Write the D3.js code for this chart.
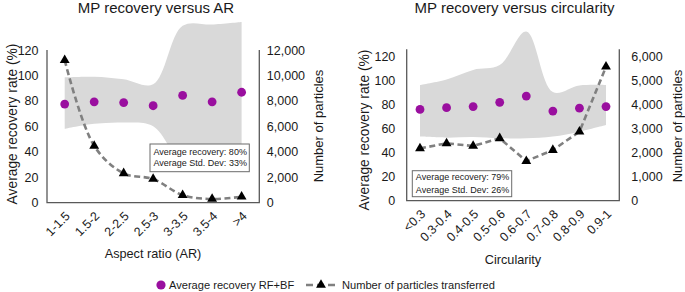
<!DOCTYPE html>
<html>
<head>
<meta charset="utf-8">
<script src="https://cdn.jsdelivr.net/npm/d3@7"></script>
<style>
  body { margin: 0; background: #fff; }
  svg text { font-family: "Liberation Sans", Arial, sans-serif; fill: #1a1a1a; }
</style>
</head>
<body>
<div id="chart"></div>
<script>
// Aspect ratio panel
const arCategories = ["1-1.5", "1.5-2", "2-2.5", "2.5-3", "3-3.5", "3.5-4", ">4"];
const arRecovery = [77.5, 79.3, 78.7, 76.2, 84.3, 79.3, 86.8];
const arBandUpper = [98.5, 99, 97, 93, 139, 140, 142];
const arBandLower = [58, 62, 63, 60, 31, 28, 33];
const arParticles = [11200, 4470, 2310, 1860, 600, 290, 470];
const arLeftTicks = [0, 20, 40, 60, 80, 100, 120];
const arRightTicks = [0, 2000, 4000, 6000, 8000, 10000, 12000];
const arBoxText = ["Average recovery: 80%", "Average Std. Dev: 33%"];

// Circularity panel
const circCategories = ["<0.3", "0.3-0.4", "0.4-0.5", "0.5-0.6", "0.6-0.7", "0.7-0.8", "0.8-0.9", "0.9-1"];
const circRecovery = [76.1, 77.5, 78.4, 82, 87.2, 74.7, 77.1, 78.4];
const circBandUpper = [96.4, 101, 109, 113, 141, 90.5, 96, 96.4];
const circBandLower = [53.4, 52.5, 53, 52, 52, 53.4, 57.5, 63];
const circParticles = [2180, 2390, 2280, 2600, 1650, 2110, 2875, 5580];
const circLeftTicks = [0, 20, 40, 60, 80, 100, 120];
const circRightTicks = [0, 1000, 2000, 3000, 4000, 5000, 6000];
const circBoxText = ["Average recovery: 79%", "Average Std. Dev: 26%"];

const purple = "#9a0f9f";
const dashGray = "#808080";
const axisColor = "#595959";

const svg = d3.select("#chart").append("svg")
    .attr("width", 685)
    .attr("height", 292);

const triangle = d3.symbol().type(d3.symbolTriangle).size(42);

function drawPanel(cfg) {
    const g = svg.append("g");

    // scales
    const x = d3.scalePoint()
        .domain(cfg.categories)
        .range([cfg.left, cfg.right])
        .padding(cfg.pad);
    const y = d3.scaleLinear()
        .domain([0, 120])
        .range([cfg.bottom, cfg.top]);
    const y2 = d3.scaleLinear()
        .domain([0, d3.max(cfg.rightTicks)])
        .range([cfg.bottom, cfg.top]);

    // shaded std-dev band
    const bandData = cfg.categories.map(function(c, i) {
        return {cat: c, lo: cfg.lower[i], hi: cfg.upper[i]};
    });
    g.append("path")
        .datum(bandData)
        .attr("fill", "#d9d9d9")
        .attr("d", d3.area()
            .curve(d3.curveCatmullRom)
            .x(function(d) { return x(d.cat); })
            .y0(function(d) { return y(d.lo); })
            .y1(function(d) { return y(d.hi); }));

    // axes lines (left, right, bottom)
    g.append("path")
        .attr("fill", "none")
        .attr("stroke", axisColor)
        .attr("stroke-width", 1.3)
        .attr("d", "M" + cfg.left + "," + cfg.axisTop + "V" + cfg.bottom + "H" + cfg.right + "V" + cfg.axisTop);

    // particles line
    const partData = cfg.categories.map(function(c, i) { return {cat: c, v: cfg.particles[i]}; });
    g.append("path")
        .datum(partData)
        .attr("fill", "none")
        .attr("stroke", dashGray)
        .attr("stroke-width", 2.6)
        .attr("stroke-dasharray", "6,3.5")
        .attr("d", d3.line()
            .curve(cfg.lineCurve)
            .x(function(d) { return x(d.cat); })
            .y(function(d) { return y2(d.v); }));

    g.selectAll(".tri")
        .data(partData)
        .enter().append("path")
        .attr("class", "tri")
        .attr("d", triangle)
        .attr("fill", "#000")
        .attr("transform", function(d) { return "translate(" + x(d.cat) + "," + y2(d.v) + ")"; });

    // recovery dots
    g.selectAll(".dot")
        .data(cfg.recovery)
        .enter().append("circle")
        .attr("class", "dot")
        .attr("cx", function(d, i) { return x(cfg.categories[i]); })
        .attr("cy", function(d) { return y(d); })
        .attr("r", 4.4)
        .attr("fill", purple);

    // tick labels
    const leftAxis = d3.axisLeft(y).tickValues(cfg.leftTicks).tickSize(0).tickPadding(cfg.leftPad);
    g.append("g")
        .attr("transform", "translate(" + cfg.left + ",0)")
        .call(leftAxis)
        .call(function(a) { a.select(".domain").remove(); })
        .selectAll("text")
        .style("font-size", "12.5px")
        .style("fill", "#1a1a1a");

    const rightAxis = d3.axisRight(y2).tickValues(cfg.rightTicks).tickSize(0)
        .tickPadding(cfg.rightPad).tickFormat(d3.format(","));
    g.append("g")
        .attr("transform", "translate(" + cfg.right + ",0)")
        .call(rightAxis)
        .call(function(a) { a.select(".domain").remove(); })
        .selectAll("text")
        .style("font-size", "12.5px")
        .style("fill", "#1a1a1a");

    // rotated category labels
    g.selectAll(".xlab")
        .data(cfg.categories)
        .enter().append("text")
        .attr("class", "xlab")
        .attr("text-anchor", "end")
        .attr("dy", "0.35em")
        .style("font-size", "12.5px")
        .attr("transform", function(d) {
            return "translate(" + (x(d) + 3) + "," + (cfg.bottom + 11) + ") rotate(-45)";
        })
        .text(function(d) { return d; });

    // titles
    g.append("text")
        .attr("x", cfg.titleX).attr("y", 13)
        .attr("text-anchor", "middle")
        .style("font-size", "15px")
        .text(cfg.title);

    g.append("text")
        .attr("x", cfg.xTitleX).attr("y", cfg.xTitleY)
        .attr("text-anchor", "middle")
        .attr("dy", "0.35em")
        .style("font-size", "12.7px")
        .text(cfg.xTitle);

    g.append("text")
        .attr("transform", "translate(" + cfg.yTitleX + "," + cfg.yTitleY + ") rotate(-90)")
        .attr("text-anchor", "middle")
        .attr("dy", "0.35em")
        .style("font-size", "13.8px")
        .text("Average recovery rate (%)");

    g.append("text")
        .attr("transform", "translate(" + cfg.y2TitleX + ",126) rotate(-90)")
        .attr("text-anchor", "middle")
        .attr("dy", "0.35em")
        .style("font-size", "13px")
        .text("Number of particles");

    // info box
    const b = cfg.box;
    g.append("rect")
        .attr("x", b.x).attr("y", b.y)
        .attr("width", b.w).attr("height", b.h)
        .attr("fill", "#fff")
        .attr("stroke", "#6b6b6b")
        .attr("stroke-width", 1);
    g.selectAll(".boxtext")
        .data(cfg.boxText)
        .enter().append("text")
        .attr("class", "boxtext")
        .attr("x", b.x + 3.5)
        .attr("y", function(d, i) { return b.y + b.first + i * b.gap; })
        .attr("dy", "0.35em")
        .style("font-size", "9px")
        .text(function(d) { return d; });
}

drawPanel({
    categories: arCategories, recovery: arRecovery, upper: arBandUpper, lower: arBandLower,
    particles: arParticles, leftTicks: arLeftTicks, rightTicks: arRightTicks, boxText: arBoxText,
    left: 47, right: 259.3, top: 50, axisTop: 50, bottom: 202.7, pad: 0.6,
    leftPad: 8.5, rightPad: 7.5, lineCurve: d3.curveCatmullRom,
    title: "MP recovery versus AR", titleX: 156,
    xTitle: "Aspect ratio (AR)", xTitleX: 153, xTitleY: 254,
    yTitleX: 12, yTitleY: 124, y2TitleX: 318,
    box: {x: 150, y: 144, w: 99.3, h: 27.7, first: 7.8, gap: 11.4}
});

drawPanel({
    categories: circCategories, recovery: circRecovery, upper: circBandUpper, lower: circBandLower,
    particles: circParticles, leftTicks: circLeftTicks, rightTicks: circRightTicks, boxText: circBoxText,
    left: 406.7, right: 619.3, top: 56.7, axisTop: 49.3, bottom: 200.7, pad: 0.5,
    leftPad: 11.4, rightPad: 12, lineCurve: d3.curveLinear,
    title: "MP recovery versus circularity", titleX: 514.5,
    xTitle: "Circularity", xTitleX: 513, xTitleY: 260,
    yTitleX: 364, yTitleY: 130, y2TitleX: 677,
    box: {x: 412.3, y: 170.7, w: 99.4, h: 26, first: 6.3, gap: 12.6}
});

// legend
const legend = svg.append("g");
legend.append("circle")
    .attr("cx", 161).attr("cy", 285).attr("r", 4.6)
    .attr("fill", purple);
legend.append("text")
    .attr("x", 169).attr("y", 285).attr("dy", "0.35em")
    .style("font-size", "11.1px")
    .text("Average recovery RF+BF");
legend.append("line")
    .attr("x1", 306).attr("x2", 337).attr("y1", 285).attr("y2", 285)
    .attr("stroke", dashGray).attr("stroke-width", 2.6)
    .attr("stroke-dasharray", "7,4");
legend.append("path")
    .attr("d", triangle)
    .attr("fill", "#000")
    .attr("transform", "translate(321,285)");
legend.append("text")
    .attr("x", 342).attr("y", 285).attr("dy", "0.35em")
    .style("font-size", "11.1px")
    .text("Number of particles transferred");
</script>
</body>
</html>
